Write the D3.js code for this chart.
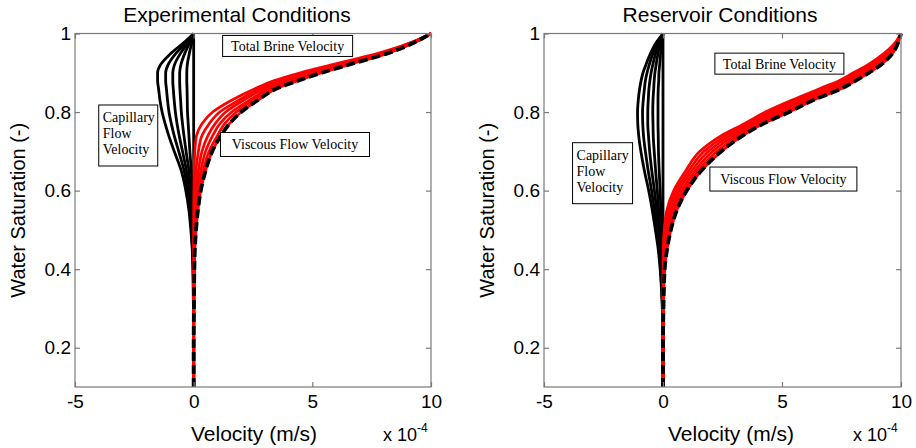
<!DOCTYPE html>
<html>
<head>
<meta charset="utf-8">
<script src="https://cdn.jsdelivr.net/npm/d3@7"></script>
<style>
  body { margin: 0; background: #fff; }
  svg { display: block; }
</style>
</head>
<body>
<script>
// water saturation levels (shared y values of every curve)
const sw = [0.1, 0.2, 0.3, 0.4, 0.45, 0.5, 0.55, 0.6, 0.65, 0.7, 0.74, 0.77, 0.8, 0.83, 0.86, 0.88, 0.9, 0.92, 0.95, 0.98, 1.0];

const xTicks = [-5, 0, 5, 10];
const yTicks = [0.2, 0.4, 0.6, 0.8, 1];

// Experimental conditions, velocities in 1e-4 m/s
const expTotal = [0, 0, 0.01, 0.03, 0.05, 0.1, 0.18, 0.3, 0.5, 0.78, 1.15, 1.5, 2.0, 2.7, 3.5, 4.4, 5.4, 6.5, 8.2, 9.4, 10];
const expViscous1 = [0, 0, 0.01, 0.02, 0.04, 0.08, 0.14, 0.23, 0.4, 0.65, 1.0, 1.3, 1.8, 2.5, 3.35, 4.25, 5.3, 6.4, 8.15, 9.4, 10];
const expViscous2 = [0, 0, 0.01, 0.02, 0.03, 0.05, 0.1, 0.17, 0.3, 0.5, 0.8, 1.1, 1.6, 2.35, 3.2, 4.1, 5.15, 6.3, 8.1, 9.4, 10];
const expViscous3 = [0, 0, 0, 0.01, 0.02, 0.03, 0.06, 0.11, 0.2, 0.35, 0.6, 0.9, 1.35, 2.1, 3.0, 3.9, 5.0, 6.2, 8.0, 9.35, 10];
const expViscous4 = [0, 0, 0, 0.01, 0.01, 0.02, 0.03, 0.06, 0.1, 0.2, 0.35, 0.65, 1.1, 1.9, 2.8, 3.7, 4.8, 6.0, 7.9, 9.3, 10];
const expViscous5 = [0, 0, 0, 0, 0, 0, 0, 0.01, 0.02, 0.05, 0.12, 0.35, 0.8, 1.6, 2.6, 3.4, 4.5, 5.8, 7.8, 9.3, 10];
const expCapillary0 = [0, 0, 0, 0, 0, 0, 0, 0, 0, 0, 0, 0, 0, 0, 0, 0, 0, 0, 0, 0, 0];
const expCapillary1 = [0, 0, 0, 0, -0.01, -0.02, -0.04, -0.06, -0.1, -0.16, -0.2, -0.23, -0.26, -0.27, -0.28, -0.29, -0.29, -0.27, -0.18, -0.07, 0];
const expCapillary2 = [0, 0, 0, -0.01, -0.02, -0.05, -0.08, -0.13, -0.2, -0.32, -0.41, -0.47, -0.52, -0.55, -0.58, -0.59, -0.59, -0.54, -0.37, -0.14, 0];
const expCapillary3 = [0, 0, 0, -0.02, -0.03, -0.07, -0.11, -0.19, -0.3, -0.47, -0.61, -0.7, -0.77, -0.82, -0.86, -0.88, -0.88, -0.81, -0.55, -0.2, 0];
const expCapillary4 = [0, 0, -0.01, -0.02, -0.05, -0.09, -0.15, -0.25, -0.4, -0.63, -0.82, -0.94, -1.04, -1.1, -1.15, -1.18, -1.18, -1.08, -0.74, -0.27, 0];
const expCapillary5 = [0, 0, -0.01, -0.03, -0.06, -0.12, -0.2, -0.33, -0.52, -0.82, -1.05, -1.2, -1.33, -1.42, -1.48, -1.52, -1.52, -1.4, -0.95, -0.35, 0];

// Reservoir conditions
const resTotal = [0, 0, 0.02, 0.07, 0.17, 0.33, 0.58, 1.0, 1.6, 2.45, 3.35, 4.2, 5.3, 6.3, 7.5, 8.1, 8.65, 9.15, 9.65, 9.9, 10];
const resViscous1 = [0, 0, 0.02, 0.05, 0.14, 0.27, 0.5, 0.89, 1.47, 2.27, 3.17, 4.04, 5.1, 6.15, 7.3, 7.95, 8.52, 9.05, 9.58, 9.88, 10];
const resViscous2 = [0, 0, 0.01, 0.04, 0.1, 0.22, 0.41, 0.78, 1.34, 2.09, 2.99, 3.88, 4.9, 5.95, 7.15, 7.8, 8.39, 8.95, 9.51, 9.86, 10];
const resViscous3 = [0, 0, 0.01, 0.02, 0.07, 0.16, 0.33, 0.67, 1.21, 1.91, 2.81, 3.72, 4.7, 5.8, 7.0, 7.7, 8.26, 8.8, 9.44, 9.84, 10];
const resViscous4 = [0, 0, 0, 0.01, 0.04, 0.1, 0.24, 0.56, 1.08, 1.73, 2.63, 3.56, 4.5, 5.6, 6.8, 7.55, 8.13, 8.7, 9.37, 9.82, 10];
const resViscous5 = [0, 0, 0, 0, 0.01, 0.05, 0.16, 0.45, 0.95, 1.55, 2.45, 3.4, 4.3, 5.4, 6.6, 7.4, 8.0, 8.6, 9.3, 9.8, 10];
const resCapillary0 = [0, 0, 0, 0, 0, 0, 0, 0, 0, 0, 0, 0, 0, 0, 0, 0, 0, 0, 0, 0, 0];
const resCapillary1 = [0, 0, -0.01, -0.02, -0.04, -0.06, -0.09, -0.12, -0.16, -0.19, -0.2, -0.21, -0.21, -0.21, -0.2, -0.18, -0.17, -0.14, -0.1, -0.05, 0];
const resCapillary2 = [0, 0, -0.01, -0.05, -0.08, -0.13, -0.18, -0.24, -0.31, -0.37, -0.41, -0.42, -0.43, -0.42, -0.39, -0.37, -0.34, -0.29, -0.21, -0.1, 0];
const resCapillary3 = [0, 0, -0.02, -0.07, -0.12, -0.19, -0.27, -0.36, -0.47, -0.56, -0.61, -0.64, -0.64, -0.62, -0.59, -0.55, -0.5, -0.43, -0.31, -0.15, 0];
const resCapillary4 = [0, 0, -0.02, -0.1, -0.16, -0.26, -0.36, -0.48, -0.62, -0.74, -0.82, -0.85, -0.86, -0.83, -0.78, -0.74, -0.67, -0.58, -0.42, -0.2, 0];
const resCapillary5 = [0, 0, -0.03, -0.12, -0.2, -0.32, -0.45, -0.6, -0.78, -0.93, -1.02, -1.06, -1.07, -1.04, -0.98, -0.92, -0.84, -0.72, -0.52, -0.25, 0];

const W = 916;
const H = 448;
const axisColor = '#7a7a7a';
const plotTop = 33.5;
const plotBottom = 387;

const svg = d3.select('body').append('svg')
  .attr('width', W)
  .attr('height', H);

svg.append('rect').attr('width', W).attr('height', H).attr('fill', '#fff');

const panels = [
  {
    title: 'Experimental Conditions',
    left: 75, right: 431,
    titleX: 237, xLabelX: 254, yLabelX: 18,
    total: expTotal,
    viscous: [expTotal, expViscous1, expViscous2, expViscous3, expViscous4, expViscous5],
    capillary: [expCapillary0, expCapillary1, expCapillary2, expCapillary3, expCapillary4, expCapillary5],
    // boxes in data units: x, Sw of the upper-left corner, width/height in px
    boxes: [
      { lines: ['Total Brine Velocity'], x: 1.22, s: 0.995, w: 130, h: 21 },
      { lines: ['Viscous Flow Velocity'], x: 1.13, s: 0.748, w: 149, h: 24 },
      { lines: ['Capillary', 'Flow', 'Velocity'], x: -4.0, s: 0.818, w: 59, h: 61 }
    ]
  },
  {
    title: 'Reservoir Conditions',
    left: 544, right: 901,
    titleX: 720, xLabelX: 731, yLabelX: 487,
    total: resTotal,
    viscous: [resTotal, resViscous1, resViscous2, resViscous3, resViscous4, resViscous5],
    capillary: [resCapillary0, resCapillary1, resCapillary2, resCapillary3, resCapillary4, resCapillary5],
    boxes: [
      { lines: ['Total Brine Velocity'], x: 2.18, s: 0.95, w: 129, h: 21 },
      { lines: ['Viscous Flow Velocity'], x: 1.97, s: 0.66, w: 147, h: 24 },
      { lines: ['Capillary', 'Flow', 'Velocity'], x: -3.8, s: 0.722, w: 60, h: 61 }
    ]
  }
];

panels.forEach(drawPanel);

function drawPanel(p) {
  const x = d3.scaleLinear().domain([-5, 10]).range([p.left, p.right]);
  const y = d3.scaleLinear().domain([0.1, 1]).range([plotBottom, plotTop]);

  const g = svg.append('g');

  const line = d3.line()
    .x((d) => x(d[0]))
    .y((d) => y(d[1]))
    .curve(d3.curveMonotoneY);

  const pts = (arr) => arr.map((v, i) => [v, sw[i]]);

  // capillary flow velocity (black)
  g.selectAll('.cap')
    .data(p.capillary)
    .join('path')
    .attr('class', 'cap')
    .attr('d', (d) => line(pts(d)))
    .attr('fill', 'none')
    .attr('stroke', '#000')
    .attr('stroke-width', 2.8)
    .attr('stroke-linejoin', 'round');

  // viscous flow velocity (red)
  g.selectAll('.visc')
    .data(p.viscous)
    .join('path')
    .attr('class', 'visc')
    .attr('d', (d) => line(pts(d)))
    .attr('fill', 'none')
    .attr('stroke', '#ff0000')
    .attr('stroke-width', 2.7)
    .attr('stroke-linejoin', 'round');

  // total brine velocity (dashed black)
  g.append('path')
    .attr('d', line(pts(p.total)))
    .attr('fill', 'none')
    .attr('stroke', '#000')
    .attr('stroke-width', 3.8)
    .attr('stroke-dasharray', '9,4');

  // frame
  g.append('rect')
    .attr('x', p.left)
    .attr('y', plotTop)
    .attr('width', p.right - p.left)
    .attr('height', plotBottom - plotTop)
    .attr('fill', 'none')
    .attr('stroke', axisColor)
    .attr('stroke-width', 1.2);

  const styleAxis = (sel) => {
    sel.select('.domain').remove();
    sel.selectAll('line').attr('stroke', axisColor).attr('stroke-width', 1.2);
    sel.selectAll('text')
      .attr('fill', '#000')
      .style('font-family', 'Liberation Sans, Arial, sans-serif')
      .style('font-size', '19px');
  };

  g.append('g')
    .attr('transform', `translate(0,${plotBottom})`)
    .call(d3.axisBottom(x).tickValues(xTicks).tickSizeInner(-5).tickSizeOuter(0).tickPadding(8)
      .tickFormat((d) => String(d)))
    .call(styleAxis);
  g.append('g')
    .attr('transform', `translate(0,${plotTop})`)
    .call(d3.axisTop(x).tickValues(xTicks).tickSizeInner(-5).tickSizeOuter(0).tickFormat(''))
    .call(styleAxis);
  g.append('g')
    .attr('transform', `translate(${p.left},0)`)
    .call(d3.axisLeft(y).tickValues(yTicks).tickSizeInner(-5).tickSizeOuter(0).tickPadding(4)
      .tickFormat((d) => (d === 1 ? '1' : d.toFixed(1))))
    .call(styleAxis);
  g.append('g')
    .attr('transform', `translate(${p.right},0)`)
    .call(d3.axisRight(y).tickValues(yTicks).tickSizeInner(-5).tickSizeOuter(0).tickFormat(''))
    .call(styleAxis);

  // title
  g.append('text')
    .attr('x', p.titleX)
    .attr('y', 22)
    .attr('text-anchor', 'middle')
    .style('font-family', 'Liberation Sans, Arial, sans-serif')
    .style('font-size', '21px')
    .text(p.title);

  // x label
  g.append('text')
    .attr('x', p.xLabelX)
    .attr('y', 441)
    .attr('text-anchor', 'middle')
    .style('font-family', 'Liberation Sans, Arial, sans-serif')
    .style('font-size', '21px')
    .text('Velocity (m/s)');

  // exponent
  const ex = g.append('text')
    .attr('x', p.right - 48)
    .attr('y', 441)
    .style('font-family', 'Liberation Sans, Arial, sans-serif')
    .style('font-size', '18px');
  ex.append('tspan').text('x 10');
  ex.append('tspan').attr('dy', -9).style('font-size', '12px').text('-4');

  // y label
  g.append('text')
    .attr('transform', `translate(${p.yLabelX + 7},${(plotTop + plotBottom) / 2}) rotate(-90)`)
    .attr('text-anchor', 'middle')
    .style('font-family', 'Liberation Sans, Arial, sans-serif')
    .style('font-size', '20px')
    .text('Water Saturation (-)');

  // annotation boxes
  p.boxes.forEach((b) => {
    const bx = x(b.x);
    const by = y(b.s);
    g.append('rect')
      .attr('x', bx)
      .attr('y', by)
      .attr('width', b.w)
      .attr('height', b.h)
      .attr('fill', '#fff')
      .attr('stroke', '#000')
      .attr('stroke-width', 1);
    const multi = b.lines.length > 1;
    b.lines.forEach((t, i) => {
      g.append('text')
        .attr('x', multi ? bx + 4 : bx + b.w / 2)
        .attr('y', by + (multi ? 17 : b.h / 2 + 5) + i * 16)
        .attr('text-anchor', multi ? 'start' : 'middle')
        .style('font-family', 'Liberation Serif, Times New Roman, serif')
        .style('font-size', '14px')
        .text(t);
    });
  });
}
</script>
</body>
</html>
